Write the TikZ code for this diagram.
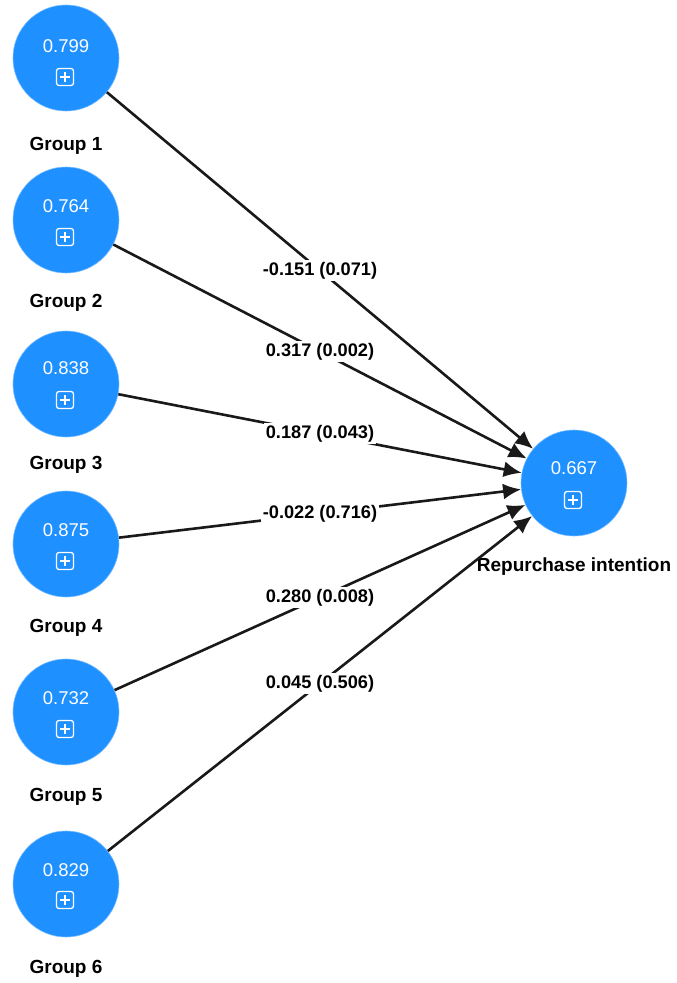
\documentclass[tikz,border=0pt]{standalone}
\usepackage{fontspec}
\setmainfont{Liberation Sans}
\definecolor{lvblue}{RGB}{30,144,255}
\tikzset{%
    latent/.style={circle, fill=lvblue, draw=lvblue!60!white, line width=0.6pt, inner sep=0pt, minimum size=106pt},
    rvalue/.style={text=white, inner sep=0pt, font=\fontsize{18.5}{20}\selectfont},
    expand/.style={draw=white, line width=1.3pt, rounded corners=2.5pt, minimum size=17pt, inner sep=0pt,
        path picture={\draw[white, line width=1.3pt]
            (path picture bounding box.center) +(-5pt,0) -- +(5pt,0)
            (path picture bounding box.center) +(0,-5pt) -- +(0,5pt);}},
    glabel/.style={inner sep=0pt, font=\bfseries\fontsize{19}{20}\selectfont},
    coef/.style={fill=white, inner sep=2pt, font=\bfseries\fontsize{18.2}{20}\selectfont},
    link/.style={-{Latex[length=18pt,width=16pt]}, line width=2.6pt, draw=black!90},
}
\usetikzlibrary{arrows.meta}

\begin{document}
\begin{tikzpicture}[x=1pt,y=-1pt]
	\useasboundingbox (0,0) rectangle (677,983);

	\node[latent](g1) at (66,58) {};
	\node[latent](g2) at (66,220) {};
	\node[latent](g3) at (66,384) {};
	\node[latent](g4) at (66,544) {};
	\node[latent](g5) at (66,712) {};
	\node[latent](g6) at (66,884) {};
	\node[latent](ri) at (574,483) {};

	\node[rvalue](v1) at (66,46) {0.799};
	\node[rvalue](v2) at (66,206) {0.764};
	\node[rvalue](v3) at (66,368) {0.838};
	\node[rvalue](v4) at (66,530) {0.875};
	\node[rvalue](v5) at (66,698) {0.732};
	\node[rvalue](v6) at (66,870) {0.829};
	\node[rvalue](vr) at (574,468) {0.667};

	\node[expand](e1) at (65,77) {};
	\node[expand](e2) at (65,237) {};
	\node[expand](e3) at (65,400) {};
	\node[expand](e4) at (65,561) {};
	\node[expand](e5) at (65,729) {};
	\node[expand](e6) at (65,900) {};
	\node[expand](er) at (573,500) {};

	\node[glabel](l1) at (66,146) {Group 1};
	\node[glabel](l2) at (66,303) {Group 2};
	\node[glabel](l3) at (66,465) {Group 3};
	\node[glabel](l4) at (66,628) {Group 4};
	\node[glabel](l5) at (66,797) {Group 5};
	\node[glabel](l6) at (66,969) {Group 6};
	\node[glabel](lr) at (574,567) {Repurchase intention};

	\draw[link] (g1) -- node[coef] {-0.151 (0.071)} (ri);
	\draw[link] (g2) -- node[coef] {0.317 (0.002)} (ri);
	\draw[link] (g3) -- node[coef] {0.187 (0.043)} (ri);
	\draw[link] (g4) -- node[coef] {-0.022 (0.716)} (ri);
	\draw[link] (g5) -- node[coef] {0.280 (0.008)} (ri);
	\draw[link] (g6) -- node[coef] {0.045 (0.506)} (ri);
\end{tikzpicture}
\end{document}
